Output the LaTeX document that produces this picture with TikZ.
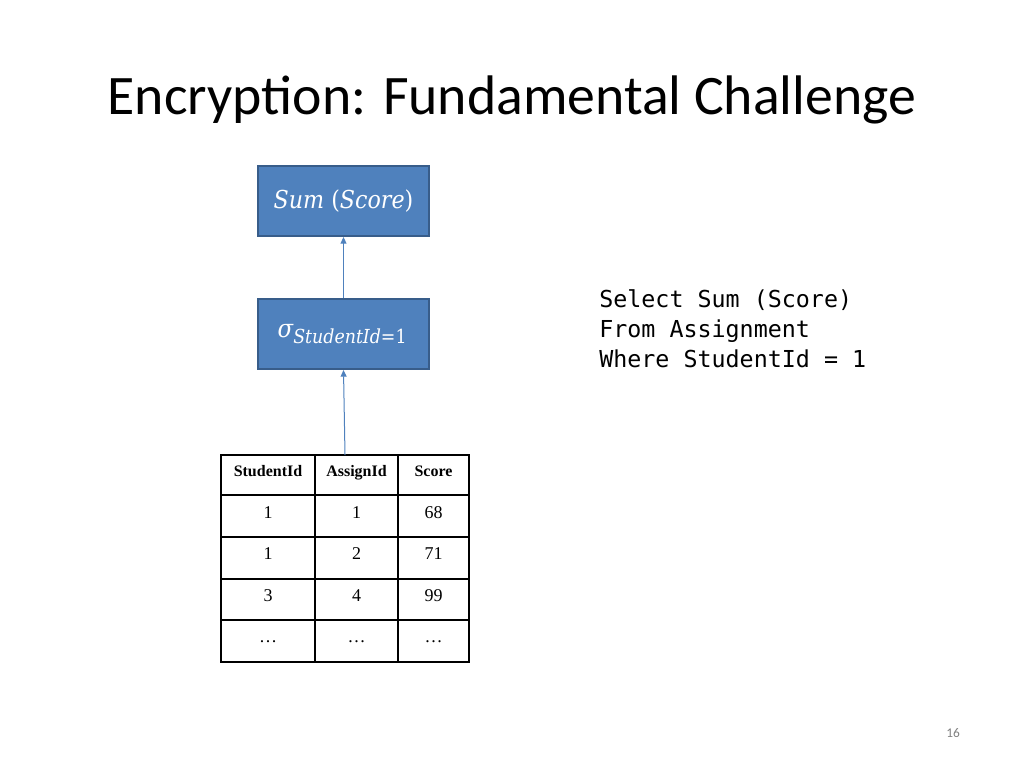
\documentclass[tikz,border=0pt]{standalone}
\usepackage{fontspec}
\setmainfont{Liberation Serif}
\newfontfamily\titlefont{Carlito}
\newfontfamily\codefont{DejaVu Sans Mono}
\newfontfamily\boxfont{DejaVu Serif Condensed}
\usetikzlibrary{arrows.meta}
\definecolor{boxfill}{HTML}{4F81BD}
\definecolor{boxline}{HTML}{385D8A}
\tikzset{
  opbox/.style={draw=boxline, line width=1.5pt, fill=boxfill, minimum width=128.25pt, minimum height=52.5pt, text=white, inner sep=0pt},
  flow/.style={draw=boxfill, line width=0.75pt, -{Triangle[length=5pt,width=4.5pt]}},
  cell/.style={font=\fontsize{13.5}{15}\selectfont, text height=9.5pt, text depth=2.5pt},
  hcell/.style={font=\bfseries\fontsize{12}{14}\selectfont, text height=9pt, text depth=2.5pt}
}
\begin{document}
\begin{tikzpicture}[x=0.75pt,y=-0.75pt]
\useasboundingbox (0,0) rectangle (1024,768);
\node[font=\titlefont\fontsize{41.8}{50}\selectfont, anchor=base] (title) at (512,114) {Encryption: Fundamental Challenge};
\node[opbox, font=\boxfont\fontsize{18.5}{22}\selectfont] (sum) at (343.5,201) {\itshape Sum \upshape(\itshape Score\upshape)};
\node[opbox, font=\boxfont\fontsize{19}{22}\selectfont] (sel) at (343.5,334) {\hspace*{-2pt}\raisebox{3pt}{\itshape σ}\raisebox{-2pt}{\fontsize{14.5}{16}\selectfont\itshape StudentId\upshape=1}};
% table
\coordinate (tabtop) at (345,455);
\draw[line width=1pt] (221,455) rectangle (469,662);
\foreach \x in {315,398} \draw[line width=1pt] (\x,455) -- (\x,662);
\foreach \y in {537,579,620} \draw[line width=1pt] (221,\y) -- (469,\y);
\draw[line width=2pt] (221,495) -- (469,495);
\node[hcell] (h1) at (268,472) {StudentId};
\node[hcell] (h2) at (356.5,472) {AssignId};
\node[hcell] (h3) at (433.5,472) {Score};
\node[cell] (a1) at (268,514) {1};
\node[cell] (a2) at (356.5,514) {1};
\node[cell] (a3) at (433.5,514) {68};
\node[cell] (b1) at (268,555) {1};
\node[cell] (b2) at (356.5,555) {2};
\node[cell] (b3) at (433.5,555) {71};
\node[cell] (c1) at (268,597) {3};
\node[cell] (c2) at (356.5,597) {4};
\node[cell] (c3) at (433.5,597) {99};
\node[cell] (d1) at (268,638) {\dots};
\node[cell] (d2) at (356.5,638) {\dots};
\node[cell] (d3) at (433.5,638) {\dots};
\draw[flow] (sel.north) -- (sum.south);
\draw[flow] (tabtop) -- (sel.south);
\node[anchor=north west, align=left, font=\codefont\fontsize{17.5}{22.5}\selectfont, inner sep=0pt] (sql) at (599,289) {Select Sum (Score)\\From Assignment\\Where StudentId = 1};
\node[font=\titlefont\fontsize{10}{12}\selectfont, text=gray] (pg) at (953,733) {16};
\end{tikzpicture}
\end{document}
